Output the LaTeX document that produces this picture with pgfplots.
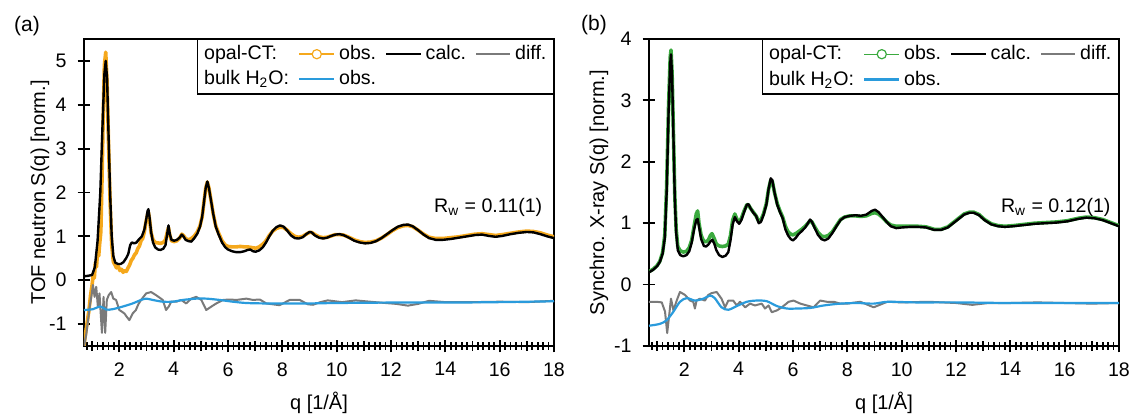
\documentclass[border=0pt]{standalone}
\usepackage{pgfplots}
\pgfplotsset{compat=1.18}
\usepackage{fontspec}
\setmainfont{Liberation Sans}
\definecolor{obsA}{HTML}{F5A81C}
\definecolor{obsB}{HTML}{3BAA3F}
\definecolor{water}{HTML}{2A9BDC}
\definecolor{diffc}{HTML}{7A7A7A}

\newcommand{\lblfont}{\fontsize{9.8}{11.5}\selectfont}
\pgfplotsset{
  panel/.style={
    scale only axis, width=235pt, height=153.5pt,
    xmin=0.7, xmax=18,
    xtick={2,4,...,18},
    minor xtick={0.8,1.0,...,17.85},
    extra x ticks={1,3,...,17}, extra x tick labels={},
    extra x tick style={major tick length=4.6pt},
    tick pos=left, tick align=center,
    major tick length=6.4pt, minor tick length=3.6pt,
    major tick style={draw=black, line width=0.9pt},
    minor tick style={draw=black, line width=0.9pt},
    axis line style={line width=0.8pt},
    /pgf/number format/assume math mode=true,
    tick label style={font=\lblfont},
    xticklabel style={yshift=-1.5pt},
    yticklabel style={xshift=-2pt},
    label style={font=\lblfont},
    xlabel={q [1/Å]},
    every axis x label/.style={at={(axis description cs:0.5,0)}, anchor=center, yshift=-28.5pt},
    legend columns=4, legend cell align=left,
    legend style={at={(1,1)}, anchor=north east, draw=black, line width=0.6pt,
      font=\lblfont, inner xsep=1.5pt, inner ysep=1pt,
      /tikz/every even column/.append style={column sep=2.5pt}},
  },
  obs legend/.style={legend image code/.code={
    \draw[##1, line width=0.7pt] (0cm,0cm) -- (0.62cm,0cm);
    \draw[##1, line width=0.6pt, fill=white] (0.31cm,0cm) circle (2.3pt);}},
  calc/.style={black, line width=1.2pt, line join=round},
  diff/.style={diffc, line width=1pt, line join=round},
  h2o/.style={water, line width=1.1pt, smooth},
}

\begin{document}
\begin{tikzpicture}
\useasboundingbox (-42pt,-35pt) rectangle (524pt,173pt);

% ---------------- (a) neutron ----------------
\begin{axis}[panel, at={(0,0)}, anchor=south west,
  ymin=-1.5, ymax=5.5, ytick={-1,0,...,5},
  ylabel={TOF neutron S(q) [norm.]},
  every axis y label/.style={at={(axis description cs:0,0.5)}, xshift=-22pt, rotate=90, anchor=center}]
\addlegendimage{empty legend}\addlegendentry{opal-CT:}
\addplot[obsA, line width=1.8pt, line join=round, obs legend] coordinates {
(0.70,-1.5) (0.76,-1.2) (0.82,-0.95) (0.88,-0.7) (0.94,-0.35) (1.00,-0.1) (1.04,0.15) (1.08,0.05)
(1.12,0.4) (1.16,0.3) (1.20,0.65) (1.24,0.55) (1.28,0.85) (1.32,1.1) (1.36,2.2) (1.40,3.5)
(1.45,4.9) (1.50,5.2) (1.55,4.5) (1.60,3.2) (1.66,1.8) (1.72,0.8) (1.78,0.42) (1.84,0.35)
(1.90,0.28) (1.96,0.32) (2.02,0.22) (2.08,0.25) (2.14,0.18) (2.20,0.22) (2.26,0.2) (2.32,0.28)
(2.38,0.35) (2.44,0.45) (2.50,0.5) (2.56,0.58) (2.62,0.62) (2.68,0.72) (2.74,0.78) (2.80,0.9)
(2.86,0.95) (2.92,1.1) (2.98,1.32) (3.04,1.5) (3.07,1.55) (3.11,1.4) (3.17,1.08) (3.24,0.92)
(3.32,0.86) (3.42,0.85) (3.52,0.84) (3.62,0.86) (3.70,0.92) (3.76,1.08) (3.81,1.2) (3.86,1.02)
(3.92,0.9) (4.02,0.88) (4.12,0.9) (4.22,0.96) (4.30,1.05) (4.36,1.02) (4.44,0.95) (4.55,0.92)
(4.65,0.95) (4.75,1.0) (4.87,1.1) (4.97,1.24) (5.05,1.45) (5.12,1.8) (5.18,2.1) (5.24,2.24)
(5.30,2.1) (5.38,1.8) (5.46,1.5) (5.55,1.24) (5.65,1.08) (5.78,0.9) (5.90,0.8) (6.00,0.77)
(6.15,0.76) (6.30,0.76) (6.45,0.77) (6.60,0.76) (6.72,0.76) (6.82,0.75) (6.92,0.74) (7.02,0.73)
(7.15,0.76) (7.28,0.82) (7.40,0.9) (7.52,1.02) (7.65,1.12) (7.78,1.18) (7.92,1.21) (8.05,1.2)
(8.18,1.14) (8.32,1.06) (8.46,1.0) (8.60,0.98) (8.75,1.0) (8.88,1.05) (9.00,1.09) (9.08,1.09)
(9.20,1.04) (9.35,0.99) (9.50,0.97) (9.65,0.98) (9.80,1.01) (9.95,1.04) (10.10,1.04) (10.25,1.03)
(10.45,0.98) (10.65,0.92) (10.85,0.88) (11.05,0.86) (11.25,0.87) (11.45,0.9) (11.65,0.96) (11.85,1.04)
(12.05,1.13) (12.25,1.2) (12.45,1.24) (12.62,1.25) (12.80,1.22) (13.00,1.14) (13.20,1.05) (13.40,0.98)
(13.65,0.95) (13.90,0.95) (14.20,0.97) (14.50,0.99) (14.80,1.02) (15.10,1.05) (15.35,1.06) (15.60,1.04)
(15.85,1.02) (16.10,1.04) (16.40,1.07) (16.70,1.1) (17.00,1.12) (17.25,1.11) (17.50,1.08) (17.75,1.03)
(18.00,0.99)};
\addlegendentry{obs.}
\addplot[calc] coordinates {
(0.70,0.09) (0.85,0.10) (1.00,0.12) (1.10,0.3) (1.20,0.9) (1.30,2.0) (1.38,3.5) (1.45,4.7)
(1.50,5.0) (1.55,4.6) (1.60,3.4) (1.66,2.0) (1.72,1.0) (1.78,0.55) (1.85,0.40) (1.95,0.37)
(2.05,0.37) (2.15,0.41) (2.25,0.5) (2.33,0.6) (2.40,0.8) (2.46,0.86) (2.55,0.84) (2.63,0.86)
(2.72,0.93) (2.83,1.0) (2.92,1.15) (2.98,1.35) (3.04,1.58) (3.07,1.62) (3.11,1.45) (3.17,1.1)
(3.24,0.86) (3.32,0.75) (3.42,0.70) (3.52,0.69) (3.62,0.72) (3.70,0.80) (3.76,1.05) (3.81,1.25)
(3.86,1.05) (3.92,0.92) (4.02,0.90) (4.12,0.92) (4.22,0.97) (4.30,1.04) (4.36,1.0) (4.44,0.92)
(4.55,0.89) (4.65,0.88) (4.75,0.95) (4.87,1.06) (4.97,1.22) (5.05,1.45) (5.12,1.8) (5.18,2.1)
(5.24,2.25) (5.30,2.1) (5.38,1.8) (5.46,1.5) (5.55,1.22) (5.65,1.05) (5.78,0.86) (5.90,0.75)
(6.00,0.70) (6.15,0.66) (6.30,0.64) (6.45,0.64) (6.60,0.66) (6.72,0.69) (6.82,0.70) (6.92,0.66)
(7.02,0.65) (7.15,0.68) (7.28,0.75) (7.40,0.86) (7.52,1.0) (7.65,1.13) (7.78,1.21) (7.92,1.25)
(8.05,1.22) (8.18,1.13) (8.32,1.02) (8.46,0.96) (8.60,0.95) (8.75,0.98) (8.88,1.05) (9.00,1.10)
(9.08,1.09) (9.20,1.02) (9.35,0.97) (9.50,0.95) (9.65,0.97) (9.80,1.01) (9.95,1.04) (10.10,1.05)
(10.25,1.03) (10.45,0.97) (10.65,0.9) (10.85,0.86) (11.05,0.84) (11.25,0.85) (11.45,0.89) (11.65,0.96)
(11.85,1.05) (12.05,1.14) (12.25,1.22) (12.45,1.26) (12.62,1.27) (12.80,1.23) (13.00,1.14) (13.20,1.04)
(13.40,0.96) (13.65,0.92) (13.90,0.92) (14.20,0.94) (14.50,0.97) (14.80,1.0) (15.10,1.03) (15.35,1.04)
(15.60,1.01) (15.85,0.99) (16.10,1.01) (16.40,1.05) (16.70,1.08) (17.00,1.10) (17.25,1.09) (17.50,1.05)
(17.75,1.0) (18.00,0.96)};
\addlegendentry{calc.}
\addplot[diff] coordinates {
(0.70,-1.5) (0.78,-1.25) (0.85,-0.91) (0.91,-0.6) (0.97,-0.38) (1.03,-0.11) (1.09,-0.38) (1.15,-0.15)
(1.21,-0.6) (1.27,-0.3) (1.36,-1.2) (1.42,-0.38) (1.48,-1.2) (1.54,-0.45) (1.61,-0.34) (1.70,-0.27)
(1.78,-0.42) (1.88,-0.45) (2.00,-0.68) (2.10,-0.72) (2.19,-0.76) (2.28,-0.84) (2.37,-0.91) (2.49,-0.76)
(2.61,-0.68) (2.70,-0.55) (2.80,-0.45) (2.99,-0.3) (3.17,-0.27) (3.35,-0.34) (3.60,-0.45) (3.72,-0.68)
(3.82,-0.6) (3.91,-0.49) (4.10,-0.49) (4.28,-0.45) (4.46,-0.53) (4.65,-0.42) (4.83,-0.38) (5.02,-0.45)
(5.20,-0.68) (5.39,-0.6) (5.57,-0.53) (5.82,-0.45) (6.06,-0.44) (6.31,-0.45) (6.68,-0.42) (6.92,-0.45)
(7.17,-0.44) (7.41,-0.53) (7.90,-0.57) (8.27,-0.45) (8.64,-0.45) (8.94,-0.55) (9.13,-0.56) (9.40,-0.5)
(9.67,-0.46) (10.2,-0.5) (10.7,-0.46) (11.4,-0.5) (12.2,-0.54) (12.62,-0.58) (13.0,-0.54) (13.4,-0.47)
(14.0,-0.5) (15.0,-0.5) (16.0,-0.49) (17.0,-0.5) (18.0,-0.47)};
\addlegendentry{diff.}
\addlegendimage{empty legend}\addlegendentry{bulk H\textsubscript{2}O:}
\addplot[h2o] coordinates {
(0.70,-0.68) (1.03,-0.66) (1.30,-0.6) (1.52,-0.67) (1.76,-0.66) (2.13,-0.6) (2.49,-0.53) (2.80,-0.45)
(2.99,-0.42) (3.23,-0.45) (3.60,-0.49) (3.97,-0.49) (4.34,-0.45) (4.83,-0.42) (5.20,-0.42) (5.69,-0.45)
(6.18,-0.49) (6.68,-0.52) (7.41,-0.53) (8.15,-0.53) (8.94,-0.53) (10,-0.52) (12,-0.51) (14,-0.51)
(16,-0.5) (18,-0.48)};
\addlegendentry{obs.}
\node[font=\lblfont, anchor=east] at (rel axis cs:0.99,0.45) {R\textsubscript{w} = 0.11(1)};
\end{axis}

% ---------------- (b) X-ray ----------------
\begin{axis}[panel, at={(282.5pt,0)}, anchor=south west,
  ymin=-1, ymax=4, ytick={-1,0,...,4},
  ylabel={Synchro. X-ray S(q) [norm.]},
  every axis y label/.style={at={(axis description cs:0,0.5)}, xshift=-25pt, rotate=90, anchor=center}]
\addlegendimage{empty legend}\addlegendentry{opal-CT:}
\addplot[obsB, line width=1.8pt, line join=round, obs legend] coordinates {
(0.70,0.21) (0.85,0.25) (1.00,0.31) (1.10,0.38) (1.20,0.52) (1.28,0.8) (1.35,1.6) (1.42,2.9)
(1.48,3.7) (1.51,3.82) (1.55,3.45) (1.60,2.45) (1.65,1.45) (1.70,0.9) (1.76,0.62) (1.85,0.55)
(1.96,0.53) (2.08,0.54) (2.18,0.6) (2.27,0.72) (2.36,0.95) (2.44,1.15) (2.49,1.2) (2.54,1.0)
(2.62,0.8) (2.72,0.7) (2.80,0.7) (2.88,0.72) (2.96,0.8) (3.02,0.83) (3.10,0.75) (3.18,0.66)
(3.28,0.63) (3.40,0.62) (3.52,0.63) (3.62,0.66) (3.70,0.8) (3.78,1.05) (3.86,1.15) (3.94,1.06)
(4.02,1.02) (4.10,1.08) (4.20,1.2) (4.30,1.3) (4.36,1.3) (4.44,1.24) (4.54,1.18) (4.64,1.12)
(4.74,1.03) (4.82,1.05) (4.92,1.16) (5.02,1.32) (5.10,1.55) (5.18,1.7) (5.24,1.68) (5.32,1.5)
(5.42,1.32) (5.52,1.2) (5.62,1.1) (5.72,0.95) (5.82,0.86) (5.92,0.82) (6.00,0.81) (6.10,0.83)
(6.20,0.86) (6.32,0.9) (6.45,0.95) (6.55,1.0) (6.63,1.04) (6.70,1.02) (6.80,0.94) (6.92,0.85)
(7.05,0.79) (7.17,0.78) (7.30,0.8) (7.45,0.86) (7.60,0.96) (7.75,1.06) (7.90,1.1) (8.10,1.12)
(8.30,1.12) (8.50,1.11) (8.70,1.12) (8.90,1.16) (9.02,1.17) (9.15,1.15) (9.30,1.09) (9.45,1.02)
(9.60,0.97) (9.80,0.95) (10.00,0.95) (10.30,0.95) (10.60,0.95) (10.90,0.94) (11.20,0.9) (11.45,0.9)
(11.70,0.94) (11.90,1.01) (12.10,1.08) (12.30,1.15) (12.50,1.18) (12.65,1.18) (12.85,1.14) (13.05,1.06)
(13.30,0.99) (13.55,0.96) (13.80,0.95) (14.10,0.96) (14.50,0.98) (14.90,1.0) (15.30,1.01) (15.70,1.02)
(16.10,1.04) (16.50,1.08) (16.80,1.1) (17.10,1.09) (17.40,1.06) (17.70,1.01) (18.00,0.96)};
\addlegendentry{obs.}
\addplot[calc] coordinates {
(0.70,0.20) (0.85,0.24) (1.00,0.30) (1.10,0.37) (1.20,0.5) (1.28,0.75) (1.35,1.5) (1.42,2.8)
(1.48,3.6) (1.51,3.75) (1.55,3.4) (1.60,2.4) (1.65,1.4) (1.70,0.85) (1.76,0.56) (1.85,0.48)
(1.96,0.46) (2.08,0.48) (2.18,0.54) (2.27,0.68) (2.36,0.9) (2.44,1.05) (2.49,1.07) (2.54,0.95)
(2.62,0.74) (2.72,0.63) (2.80,0.62) (2.88,0.65) (2.96,0.70) (3.03,0.73) (3.10,0.67) (3.18,0.56)
(3.28,0.48) (3.40,0.45) (3.52,0.47) (3.62,0.53) (3.70,0.72) (3.78,0.98) (3.86,1.10) (3.94,1.03)
(4.02,0.99) (4.10,1.05) (4.20,1.18) (4.30,1.30) (4.36,1.31) (4.44,1.24) (4.54,1.17) (4.64,1.12)
(4.74,1.00) (4.82,1.02) (4.92,1.14) (5.02,1.30) (5.10,1.55) (5.18,1.73) (5.24,1.70) (5.32,1.5)
(5.42,1.3) (5.52,1.18) (5.62,1.08) (5.72,0.90) (5.82,0.80) (5.92,0.74) (6.00,0.72) (6.10,0.76)
(6.20,0.82) (6.32,0.87) (6.45,0.93) (6.55,1.0) (6.63,1.06) (6.70,1.02) (6.80,0.92) (6.92,0.81)
(7.05,0.74) (7.17,0.72) (7.30,0.75) (7.45,0.84) (7.60,0.95) (7.75,1.05) (7.90,1.10) (8.10,1.12)
(8.30,1.13) (8.50,1.12) (8.70,1.14) (8.90,1.20) (9.02,1.22) (9.15,1.18) (9.30,1.10) (9.45,1.02)
(9.60,0.95) (9.80,0.92) (10.00,0.93) (10.30,0.94) (10.60,0.94) (10.90,0.93) (11.20,0.89) (11.45,0.89)
(11.70,0.93) (11.90,1.0) (12.10,1.07) (12.30,1.14) (12.50,1.17) (12.65,1.17) (12.85,1.13) (13.05,1.05)
(13.30,0.98) (13.55,0.95) (13.80,0.94) (14.10,0.95) (14.50,0.97) (14.90,0.99) (15.30,1.0) (15.70,1.01)
(16.10,1.03) (16.50,1.07) (16.80,1.09) (17.10,1.08) (17.40,1.05) (17.70,1.0) (18.00,0.95)};
\addlegendentry{calc.}
\addplot[diff] coordinates {
(0.70,-0.28) (0.98,-0.28) (1.17,-0.29) (1.29,-0.44) (1.37,-0.79) (1.45,-0.47) (1.51,-0.23) (1.60,-0.42)
(1.72,-0.26) (1.84,-0.12) (2.03,-0.17) (2.21,-0.26) (2.33,-0.28) (2.39,-0.39) (2.45,-0.26) (2.57,-0.23)
(2.76,-0.26) (2.88,-0.17) (3.00,-0.14) (3.19,-0.12) (3.37,-0.23) (3.50,-0.37) (3.62,-0.26) (3.80,-0.26)
(3.93,-0.34) (4.05,-0.28) (4.24,-0.37) (4.42,-0.31) (4.60,-0.34) (4.85,-0.31) (4.97,-0.39) (5.10,-0.34)
(5.22,-0.45) (5.41,-0.42) (5.59,-0.37) (5.84,-0.28) (6.02,-0.26) (6.27,-0.31) (6.51,-0.34) (6.76,-0.37)
(7.00,-0.26) (7.25,-0.28) (7.50,-0.28) (7.74,-0.31) (7.99,-0.31) (8.48,-0.28) (8.97,-0.37) (9.47,-0.28)
(10.0,-0.29) (11.0,-0.28) (12.0,-0.3) (12.6,-0.33) (13.2,-0.3) (14.0,-0.3) (15.0,-0.29) (16.0,-0.3)
(17.0,-0.31) (18.0,-0.3)};
\addlegendentry{diff.}
\addlegendimage{empty legend}\addlegendentry{bulk H\textsubscript{2}O:}
\addplot[h2o] coordinates {
(0.70,-0.67) (1.10,-0.64) (1.35,-0.58) (1.60,-0.44) (1.84,-0.28) (2.09,-0.22) (2.39,-0.26) (2.70,-0.23)
(2.94,-0.18) (3.12,-0.22) (3.37,-0.37) (3.62,-0.41) (3.93,-0.35) (4.30,-0.28) (4.66,-0.26) (5.03,-0.27)
(5.41,-0.35) (5.78,-0.39) (6.15,-0.39) (6.64,-0.38) (7.13,-0.34) (7.74,-0.31) (8.36,-0.30) (8.97,-0.31)
(9.50,-0.28) (10.5,-0.29) (12,-0.29) (14,-0.3) (16,-0.3) (18,-0.3)};
\addlegendentry{obs.}
\node[font=\lblfont, anchor=east] at (rel axis cs:0.997,0.45) {R\textsubscript{w} = 0.12(1)};
\end{axis}

\node[font=\fontsize{10.5}{12}\selectfont] at (-28.5pt,160pt) {(a)};
\node[font=\fontsize{10.5}{12}\selectfont] at (255pt,160.5pt) {(b)};
\end{tikzpicture}
\end{document}
